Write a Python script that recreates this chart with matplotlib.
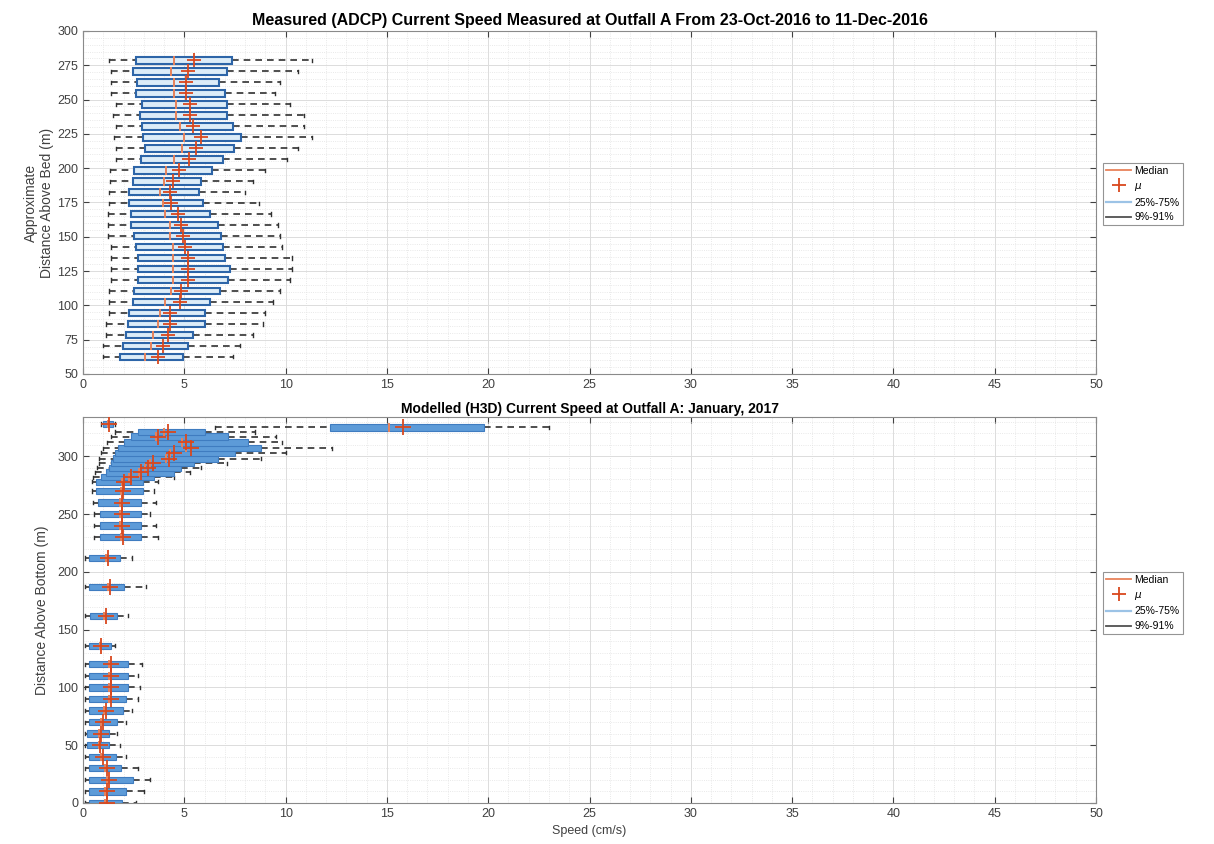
import matplotlib
matplotlib.use("Agg")
import matplotlib.pyplot as plt
from matplotlib.patches import Rectangle
from matplotlib.lines import Line2D
from matplotlib.ticker import MultipleLocator

plt.rcParams['font.family'] = ['Liberation Sans Narrow', 'Liberation Sans', 'DejaVu Sans']

# ---- Measured (ADCP) statistics per bin, speed in cm/s ----
adcp_height = [62.5, 70.5, 78.5, 86.5, 94.5, 102.5, 110.5, 118.5, 126.5, 134.5,
               142.5, 150.5, 158.5, 166.5, 174.5, 182.5, 190.5, 198.5, 206.5, 214.5,
               222.5, 230.5, 238.5, 246.5, 254.5, 262.5, 270.5, 278.5]
adcp_p09 = [0.97, 0.97, 1.14, 1.14, 1.30, 1.30, 1.30, 1.39, 1.39, 1.39,
            1.39, 1.22, 1.22, 1.22, 1.30, 1.30, 1.35, 1.35, 1.63, 1.63,
            1.55, 1.63, 1.47, 1.63, 1.39, 1.39, 1.39, 1.30]
adcp_p25 = [1.80, 1.96, 2.13, 2.21, 2.29, 2.46, 2.54, 2.71, 2.71, 2.71,
            2.62, 2.54, 2.38, 2.38, 2.26, 2.29, 2.46, 2.51, 2.84, 3.04,
            2.95, 2.92, 2.79, 2.92, 2.62, 2.67, 2.46, 2.62]
adcp_med = [3.04, 3.37, 3.45, 3.70, 3.78, 4.03, 4.36, 4.44, 4.44, 4.44,
            4.44, 4.27, 4.27, 4.03, 3.97, 3.80, 4.00, 4.10, 4.50, 4.90,
            5.00, 4.77, 4.60, 4.60, 4.50, 4.50, 4.36, 4.50]
adcp_mean = [3.70, 3.95, 4.19, 4.27, 4.27, 4.77, 4.85, 5.18, 5.18, 5.18,
             5.01, 4.93, 4.85, 4.69, 4.36, 4.27, 4.44, 4.75, 5.21, 5.60,
             5.84, 5.45, 5.30, 5.26, 5.10, 5.07, 5.18, 5.50]
adcp_p75 = [4.93, 5.18, 5.43, 6.00, 6.00, 6.25, 6.75, 7.16, 7.24, 6.99,
            6.91, 6.83, 6.67, 6.25, 5.92, 5.71, 5.84, 6.39, 6.91, 7.46,
            7.82, 7.41, 7.11, 7.11, 7.03, 6.70, 7.11, 7.33]
adcp_p91 = [7.41, 7.74, 8.40, 8.90, 8.98, 9.39, 9.72, 10.2, 10.3, 10.3,
            9.80, 9.72, 9.64, 9.30, 8.70, 7.99, 8.40, 8.98, 10.05, 10.6,
            11.29, 10.9, 10.9, 10.2, 9.47, 9.72, 10.6, 11.29]

# ---- Modelled (H3D) statistics per layer, speed in cm/s ----
h3d_height = [0, 10, 20, 30, 40, 50, 60, 70, 80, 90, 100, 110, 120, 136, 162, 187, 212,
              230, 240, 250, 260, 270, 278, 282, 286, 290, 294, 298, 303, 307, 312,
              317, 321, 325, 328]
h3d_p09 = [0.10, 0.10, 0.10, 0.10, 0.10, 0.10, 0.10, 0.10, 0.10, 0.10, 0.10, 0.10, 0.10,
           0.10, 0.10, 0.10, 0.10, 0.55, 0.55, 0.55, 0.50, 0.45, 0.45, 0.50, 0.60, 0.70,
           0.80, 0.80, 0.90, 1.00, 1.20, 1.40, 1.60, 6.50, 0.90]
h3d_p25 = [0.30, 0.30, 0.30, 0.30, 0.30, 0.20, 0.20, 0.30, 0.30, 0.30, 0.30, 0.30, 0.30,
           0.30, 0.35, 0.30, 0.30, 0.86, 0.86, 0.86, 0.73, 0.65, 0.65, 0.90, 1.14, 1.30,
           1.40, 1.47, 1.60, 1.72, 2.00, 2.37, 2.70, 12.2, 1.00]
h3d_med = [1.10, 1.10, 1.20, 1.10, 0.90, 0.80, 0.80, 0.90, 1.05, 1.30, 1.30, 1.30, 1.30,
           0.85, 1.05, 1.25, 1.15, 1.85, 1.80, 1.80, 1.80, 1.85, 1.90, 2.25, 2.75, 3.05,
           3.30, 4.10, 4.30, 5.10, 4.90, 3.60, 4.00, 15.1, 1.25]
h3d_mean = [1.20, 1.20, 1.30, 1.20, 0.98, 0.86, 0.90, 0.98, 1.15, 1.40, 1.40, 1.40, 1.40,
            0.90, 1.15, 1.35, 1.25, 1.96, 1.90, 1.90, 1.90, 1.96, 2.00, 2.37, 2.87, 3.20,
            3.45, 4.26, 4.50, 5.35, 5.10, 3.70, 4.19, 15.8, 1.30]
h3d_p75 = [1.90, 2.10, 2.45, 1.85, 1.65, 1.30, 1.30, 1.70, 1.95, 2.10, 2.20, 2.20, 2.20,
           1.40, 1.70, 2.00, 1.80, 2.87, 2.87, 2.87, 2.87, 2.95, 2.95, 3.50, 4.50, 4.85,
           5.50, 6.67, 7.50, 8.80, 8.15, 7.16, 6.00, 19.8, 1.50]
h3d_p91 = [2.60, 3.00, 3.30, 2.70, 2.10, 1.80, 1.70, 2.10, 2.40, 2.70, 2.80, 2.70, 2.90,
           1.60, 2.20, 3.10, 2.40, 3.70, 3.60, 3.30, 3.60, 3.50, 3.70, 4.50, 5.30, 5.80,
           7.10, 8.80, 10.0, 12.3, 9.80, 9.50, 8.50, 23.0, 1.60]

x_ticks = [0, 5, 10, 15, 20, 25, 30, 35, 40, 45, 50]
adcp_yticks = [50, 75, 100, 125, 150, 175, 200, 225, 250, 275, 300]
h3d_yticks = [0, 50, 100, 150, 200, 250, 300]
legend_labels = ['Median', r'$\mu$', '25%-75%', '9%-91%']

MED_C = '#e8825a'
MEAN_C = '#d9481e'
WHISK_C = '#303030'


def draw_boxes(ax, h, p09, p25, med, mean, p75, p91, box_h, face, edge, lw_box, ms):
    for i in range(len(h)):
        y = h[i]
        # whiskers
        ax.plot([p09[i], p25[i]], [y, y], color=WHISK_C, lw=1.2,
                linestyle=(0, (4, 3)), zorder=2)
        ax.plot([p75[i], p91[i]], [y, y], color=WHISK_C, lw=1.2,
                linestyle=(0, (4, 3)), zorder=2)
        for xe in (p09[i], p91[i]):
            ax.plot([xe, xe], [y - box_h * 0.25, y + box_h * 0.25],
                    color=WHISK_C, lw=1.0, zorder=2)
        # interquartile box
        ax.add_patch(Rectangle((p25[i], y - box_h / 2), p75[i] - p25[i], box_h,
                               facecolor=face, edgecolor=edge, lw=lw_box, zorder=3))
        # median and mean
        ax.plot([med[i], med[i]], [y - box_h / 2, y + box_h / 2],
                color=MED_C, lw=1.4, zorder=4)
        ax.plot([mean[i]], [y], marker='+', color=MEAN_C, ms=ms, mew=1.3,
                linestyle='none', zorder=5)


def style_axes(ax, yticks, ylim, ymin_step):
    ax.set_xlim(0, 50)
    ax.set_ylim(*ylim)
    ax.set_xticks(x_ticks)
    ax.set_yticks(yticks)
    ax.xaxis.set_minor_locator(MultipleLocator(1))
    ax.yaxis.set_minor_locator(MultipleLocator(ymin_step))
    ax.grid(which='major', color='#dcdcdc', lw=0.7, linestyle='-', zorder=0)
    ax.grid(which='minor', color='#e2e2e2', lw=0.6, linestyle=':', zorder=0)
    ax.set_axisbelow(True)
    ax.tick_params(which='both', direction='in', top=True, right=True,
                   labelsize=9, colors='#404040', length=4)
    ax.tick_params(which='minor', length=0)
    for s in ax.spines.values():
        s.set_color('#8a8a8a')
        s.set_linewidth(0.8)


fig = plt.figure(figsize=(12.14, 8.44), dpi=100)
ax1 = fig.add_axes([0.0684, 0.5569, 0.8344, 0.4064])
ax2 = fig.add_axes([0.0684, 0.0486, 0.8344, 0.4573])

draw_boxes(ax1, adcp_height, adcp_p09, adcp_p25, adcp_med, adcp_mean, adcp_p75, adcp_p91,
           box_h=4.8, face='#dcecf8', edge='#2d65a8', lw_box=1.5, ms=10)
style_axes(ax1, adcp_yticks, (50, 300), 5)
ax1.set_title('Measured (ADCP) Current Speed Measured at Outfall A From 23-Oct-2016 to 11-Dec-2016',
              fontsize=11.5, fontweight='bold', pad=4)
ax1.set_ylabel('Approximate\nDistance Above Bed (m)', fontsize=10, color='#404040',
               labelpad=2)

draw_boxes(ax2, h3d_height, h3d_p09, h3d_p25, h3d_med, h3d_mean, h3d_p75, h3d_p91,
           box_h=5.5, face='#5d9bd8', edge='#3f7cc0', lw_box=0.8, ms=12)
style_axes(ax2, h3d_yticks, (0, 334), 10)
ax2.set_title('Modelled (H3D) Current Speed at Outfall A: January, 2017',
              fontsize=10, fontweight='bold', pad=3)
ax2.set_ylabel('Distance Above Bottom (m)', fontsize=10, color='#404040', labelpad=6)
ax2.set_xlabel('Speed (cm/s)', fontsize=9, color='#404040', labelpad=4)

handles = [Line2D([], [], color=MED_C, lw=1.3),
           Line2D([], [], color=MEAN_C, marker='+', ms=10, mew=1.3, linestyle='none'),
           Line2D([], [], color='#9cc3e6', lw=1.6),
           Line2D([], [], color='#505050', lw=1.3)]
for anchor in ((1103 / 1214, 1 - 163 / 844), (1103 / 1214, 1 - 572 / 844)):
    leg = fig.legend(handles, legend_labels, loc='upper left', bbox_to_anchor=anchor,
                     fontsize=7.5, frameon=True, fancybox=False, handlelength=2.4,
                     borderpad=0.3, labelspacing=0.45, handletextpad=0.3,
                     borderaxespad=0)
    leg.get_frame().set_edgecolor('#7a7a7a')
    leg.get_frame().set_linewidth(0.8)

fig.savefig('out.png', dpi=100)
